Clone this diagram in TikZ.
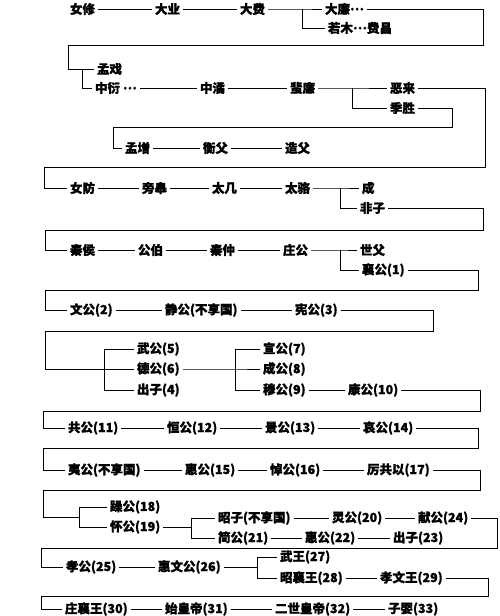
\documentclass[tikz,border=0pt]{standalone}
\usepackage{fontspec}
\newfontfamily\cjk{Noto Sans CJK SC}[FakeBold=1.2]
\newcommand\dd{\raisebox{.5ex}{…}}
\tikzset{
	ren/.style={anchor=west, inner xsep=2.5pt, inner ysep=1pt, font=\cjk\bfseries\fontsize{12.5}{14}\selectfont},
	lin/.style={line width=1pt},
}
\begin{document}
\begin{tikzpicture}[x=1pt, y=-1pt, lin]
	\useasboundingbox (0,0) rectangle (500,616);
	
	%Zeile 1
	\node[ren] (nvxiu) at (67,9) {女修};
	\node[ren] (daye) at (152,9) {大业};
	\node[ren] (dafei) at (237,9) {大费};
	\node[ren] (dalian) at (322,9) {大廉\dd};
	\node[ren] (ruomu) at (325,28) {若木\dd 费昌};
	\coordinate (f1) at (302,9);
	\draw (nvxiu) -- (daye)  (daye) -- (dafei);
	\draw (dafei) -- (f1) -- (dalian);
	\draw (f1) |- (ruomu);
	
	%Zeile 2
	\node[ren] (mengxi) at (94,69) {孟戏};
	\node[ren] (zhongyan) at (92,88) {中衍\ \dd};
	\node[ren] (zhongjue) at (197,88) {中潏};
	\node[ren] (feilian) at (287,88) {蜚廉};
	\node[ren] (elai) at (387,88) {恶来};
	\node[ren] (jisheng) at (387,108) {季胜};
	\coordinate (f2) at (82,69);
	\coordinate (f3) at (352,88);
	\draw (dalian) -| (483,45) -- (68,45) |- (mengxi);
	\draw (f2) |- (zhongyan);
	\draw (zhongyan) -- (zhongjue)  (zhongjue) -- (feilian);
	\draw (feilian) -- (f3) -- (elai);
	\draw (f3) |- (jisheng);
	
	%Zeile 3
	\node[ren] (mengzeng) at (122,148) {孟增};
	\node[ren] (hengfu) at (200,148) {衡父};
	\node[ren] (zaofu) at (282,148) {造父};
	\draw (jisheng) -| (452,127) -- (113,127) |- (mengzeng);
	\draw (mengzeng) -- (hengfu)  (hengfu) -- (zaofu);
	
	%Zeile 4
	\node[ren] (nvfang) at (67,188) {女防};
	\node[ren] (panggao) at (139,188) {旁皋};
	\node[ren] (taiji) at (209,188) {太几};
	\node[ren] (tailuo) at (282,188) {太骆};
	\node[ren] (cheng) at (359,188) {成};
	\node[ren] (feizi) at (357,208) {非子};
	\coordinate (f4) at (340,188);
	\draw (elai) -| (485,167) -- (44,167) |- (nvfang);
	\draw (nvfang) -- (panggao)  (panggao) -- (taiji)  (taiji) -- (tailuo);
	\draw (tailuo) -- (f4) -- (cheng);
	\draw (f4) |- (feizi);
	
	%Zeile 5
	\node[ren] (qinhou) at (67,250) {秦侯};
	\node[ren] (gongbo) at (135,250) {公伯};
	\node[ren] (qinzhong) at (207,250) {秦仲};
	\node[ren] (zhuanggong) at (280,250) {庄公};
	\node[ren] (shifu) at (357,250) {世父};
	\node[ren] (xianggong) at (359,270) {襄公(1)};
	\coordinate (f5) at (340,250);
	\draw (feizi) -| (483,230) -- (45,230) |- (qinhou);
	\draw (qinhou) -- (gongbo)  (gongbo) -- (qinzhong)  (qinzhong) -- (zhuanggong);
	\draw (zhuanggong) -- (f5) -- (shifu);
	\draw (f5) |- (xianggong);
	
	%Zeile 6
	\node[ren] (wengong) at (67,310) {文公(2)};
	\node[ren] (jinggong) at (162,310) {静公(不享国)};
	\node[ren] (xiangong) at (292,310) {宪公(3)};
	\draw (xianggong) -| (478,290) -- (45,290) |- (wengong);
	\draw (wengong) -- (jinggong)  (jinggong) -- (xiangong);
	
	%Zeile 7
	\node[ren] (wugong) at (134,349) {武公(5)};
	\node[ren] (degong) at (134,369) {德公(6)};
	\node[ren] (chuzi) at (134,390) {出子(4)};
	\node[ren] (xuangong) at (260,349) {宣公(7)};
	\node[ren] (chenggong) at (260,369) {成公(8)};
	\node[ren] (mugong) at (260,390) {穆公(9)};
	\node[ren] (kanggong) at (345,390) {康公(10)};
	\coordinate (f6) at (104,369);
	\coordinate (f7) at (235,369);
	\draw (xiangong) -| (433,331) -- (45,331) |- (f6);
	\draw (wugong) -| (104,390) -- (chuzi);
	\draw (f6) -- (degong);
	\draw (degong) -- (f7) -- (chenggong);
	\draw (xuangong) -| (235,390) -- (mugong);
	\draw (mugong) -- (kanggong);
	
	%Zeile 8
	\node[ren] (gonggong) at (65,428) {共公(11)};
	\node[ren] (huangong) at (164,428) {恒公(12)};
	\node[ren] (jinggongb) at (262,428) {景公(13)};
	\node[ren] (aigong) at (360,428) {哀公(14)};
	\draw (kanggong) -| (480,411) -- (43,411) |- (gonggong);
	\draw (gonggong) -- (huangong)  (huangong) -- (jinggongb)  (jinggongb) -- (aigong);
	
	%Zeile 9
	\node[ren] (yigong) at (65,470) {夷公(不享国)};
	\node[ren] (huigong) at (182,470) {惠公(15)};
	\node[ren] (daogong) at (267,470) {悼公(16)};
	\node[ren] (ligong) at (364,470) {厉共以(17)};
	\draw (aigong) -| (478,448) -- (43,448) |- (yigong);
	\draw (yigong) -- (huigong)  (huigong) -- (daogong)  (daogong) -- (ligong);
	
	%Zeile 10
	\node[ren] (zaogong) at (107,507) {躁公(18)};
	\node[ren] (huaigong) at (107,527) {怀公(19)};
	\node[ren] (zhaozi) at (215,518) {昭子(不享国)};
	\node[ren] (linggong) at (329,518) {灵公(20)};
	\node[ren] (xiangongb) at (415,518) {献公(24)};
	\node[ren] (jiangong) at (215,538) {简公(21)};
	\node[ren] (huigongb) at (302,538) {惠公(22)};
	\node[ren] (chuzib) at (390,538) {出子(23)};
	\coordinate (f8) at (79,517);
	\coordinate (f9) at (191,527);
	\draw (ligong) -| (480,490) -- (43,490) |- (f8);
	\draw (zaogong) -| (79,527) -- (huaigong);
	\draw (huaigong) -- (f9);
	\draw (zhaozi) -| (191,538) -- (jiangong);
	\draw (zhaozi) -- (linggong)  (linggong) -- (xiangongb);
	\draw (jiangong) -- (huigongb)  (huigongb) -- (chuzib);
	
	%Zeile 11
	\node[ren] (xiaogong) at (63,567) {孝公(25)};
	\node[ren] (huiwengong) at (155,567) {惠文公(26)};
	\node[ren] (wuwang) at (277,557) {武王(27)};
	\node[ren] (zhaoxiangwang) at (277,578) {昭襄王(28)};
	\node[ren] (xiaowenwang) at (377,578) {孝文王(29)};
	\coordinate (f10) at (257,567);
	\draw (xiangongb) -| (497,548) -- (41,548) |- (xiaogong);
	\draw (xiaogong) -- (huiwengong);
	\draw (huiwengong) -- (f10);
	\draw (wuwang) -| (257,578) -- (zhaoxiangwang);
	\draw (zhaoxiangwang) -- (xiaowenwang);
	
	%Zeile 12
	\node[ren] (zhuangxiangwang) at (62,609) {庄襄王(30)};
	\node[ren] (shihuangdi) at (162,609) {始皇帝(31)};
	\node[ren] (ershi) at (272,609) {二世皇帝(32)};
	\node[ren] (ziying) at (385,609) {子婴(33)};
	\draw (xiaowenwang) -| (488,596) -- (41,596) |- (zhuangxiangwang);
	\draw (zhuangxiangwang) -- (shihuangdi)  (shihuangdi) -- (ershi)  (ershi) -- (ziying);
	
\end{tikzpicture}
\end{document}
